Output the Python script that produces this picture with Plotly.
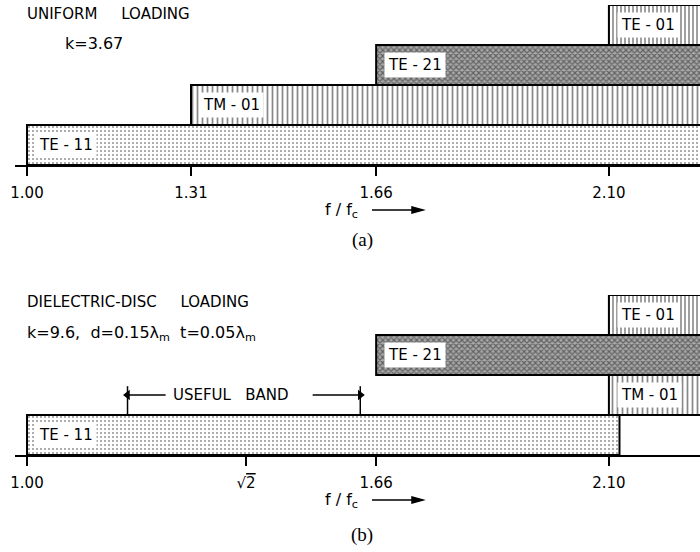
import plotly.graph_objects as go

# ---- data -------------------------------------------------------------
modes = ["TE - 11", "TM - 01", "TE - 21", "TE - 01"]
rows = [0.5, 1.5, 2.5, 3.5]

# (a) uniform loading, k = 3.67: band start / end in f/fc
uniform_start = [1.00, 1.31, 1.66, 2.10]
uniform_end = [2.40, 2.40, 2.40, 2.40]
uniform_ticks = [1.00, 1.31, 1.66, 2.10]
uniform_ticktext = ["1.00", "1.31", "1.66", "2.10"]

# (b) dielectric-disc loading
disc_start = [1.00, 2.10, 1.66, 2.10]
disc_end = [2.12, 2.40, 2.40, 2.40]
disc_ticks = [1.00, 1.4142, 1.66, 2.10]
disc_ticktext = ["1.00", "√<span style='text-decoration:overline'>2</span>", "1.66", "2.10"]
useful_band = [1.19, 1.63]

# ---- styling ----------------------------------------------------------
W, H = 700, 552
FONT = "DejaVu Sans"
patterns = [
    dict(shape=".", fgcolor="#333", bgcolor="white", size=4, solidity=0.22),
    dict(shape="|", fgcolor="#111", bgcolor="white", size=5, solidity=0.35),
    dict(shape="x", fgcolor="#1a1a1a", bgcolor="#a8a8a8", size=4, solidity=0.5),
    dict(shape="|", fgcolor="#111", bgcolor="white", size=4, solidity=0.4),
]

def py(px):
    """pixel row -> paper y"""
    return 1 - px / H

fig = go.Figure()

def add_panel(starts, ends, xa, ya):
    for name, r, s, e, pat in zip(modes, rows, starts, ends, patterns):
        fig.add_trace(go.Bar(
            orientation="h", y=[r], x=[e - s], base=[s], width=1,
            marker=dict(color="white", pattern=pat, line=dict(color="black", width=2)),
            textposition="none",
            xaxis=xa, yaxis=ya, showlegend=False, hoverinfo="skip", name=name,
        ))
        fig.add_annotation(
            x=s, y=r, xref=xa, yref=ya, text=name, showarrow=False,
            xanchor="left", xshift=8, bgcolor="white", borderpad=3,
            font=dict(family=FONT, size=15, color="black"),
        )

add_panel(uniform_start, uniform_end, "x", "y")
add_panel(disc_start, disc_end, "x2", "y2")

x_range = [0.9773, 2.2722]
x_dom = [15 / W, 1]
axis_common = dict(
    range=x_range, domain=x_dom, showgrid=False, zeroline=False, automargin=False,
    showline=True, linecolor="black", linewidth=2,
    ticks="outside", ticklen=9, tickwidth=2, tickcolor="black",
    ticklabelstandoff=4,
    tickfont=dict(family=FONT, size=15, color="black"),
)
fig.update_layout(
    width=W, height=H, margin=dict(l=0, r=0, t=0, b=0, autoexpand=False),
    paper_bgcolor="white", plot_bgcolor="white", barmode="overlay",
    xaxis=dict(anchor="y", tickvals=uniform_ticks, ticktext=uniform_ticktext, **axis_common),
    xaxis2=dict(anchor="y2", tickvals=disc_ticks, ticktext=disc_ticktext, **axis_common),
    yaxis=dict(domain=[py(165), py(5)], range=[0, 4], visible=False),
    yaxis2=dict(domain=[py(455), py(295)], range=[0, 4], visible=False),
)

# useful band: end brackets and arrow shafts (one broken line), arrowheads, caption
band_y = 1.5
bx = [useful_band[0], useful_band[0], None,
      useful_band[1], useful_band[1], None,
      useful_band[0], useful_band[0] + 0.072, None,
      useful_band[1] - 0.09, useful_band[1]]
by = [1.0, 1.72, None, 1.0, 1.72, None, band_y, band_y, None, band_y, band_y]
fig.add_trace(go.Scatter(
    x=bx, y=by, mode="lines", xaxis="x2", yaxis="y2",
    line=dict(color="black", width=1.5), showlegend=False, hoverinfo="skip",
))
fig.add_trace(go.Scatter(
    x=useful_band, y=[band_y, band_y], mode="markers", xaxis="x2", yaxis="y2",
    marker=dict(symbol=["triangle-left", "triangle-right"], size=9, color="black"),
    showlegend=False, hoverinfo="skip", cliponaxis=False,
))
fig.add_annotation(x=useful_band[0] + 0.083, y=band_y, xref="x2", yref="y2",
                   text="USEFUL   BAND", showarrow=False, xanchor="left",
                   font=dict(family=FONT, size=15, color="black"))

# titles and captions
def txt(x, y, s, size=15, anchor="left", family=FONT):
    fig.add_annotation(x=x / W, y=py(y), xref="paper", yref="paper", text=s,
                       showarrow=False, xanchor=anchor, yanchor="middle",
                       font=dict(family=family, size=size, color="black"))

txt(25, 14, "UNIFORM     LOADING")
txt(63, 43, "k=3.67", size=16)
txt(25, 302, "DIELECTRIC-DISC     LOADING")
txt(25, 333, "k=9.6,  d=0.15λ<sub>m</sub>  t=0.05λ<sub>m</sub>", size=16)

# axis caption f/fc with a long arrow drawn as a shaft and a filled head
for yl in (210, 500):
    txt(341, yl, "f / f<sub>c</sub>", size=16, anchor="center")
    yp = py(yl)
    fig.add_shape(type="path", xref="paper", yref="paper",
                  path=(f"M {372 / W} {yp} L {413 / W} {yp} "
                        f"M {412 / W} {yp + 3 / H} L {423 / W} {yp} L {412 / W} {yp - 3 / H} Z"),
                  fillcolor="black", line=dict(color="black", width=1.5))

for yl, cap in [(240, "(a)"), (535, "(b)")]:
    txt(362, yl, cap, size=19, anchor="center", family="Liberation Serif")

fig.write_html("out.html")
